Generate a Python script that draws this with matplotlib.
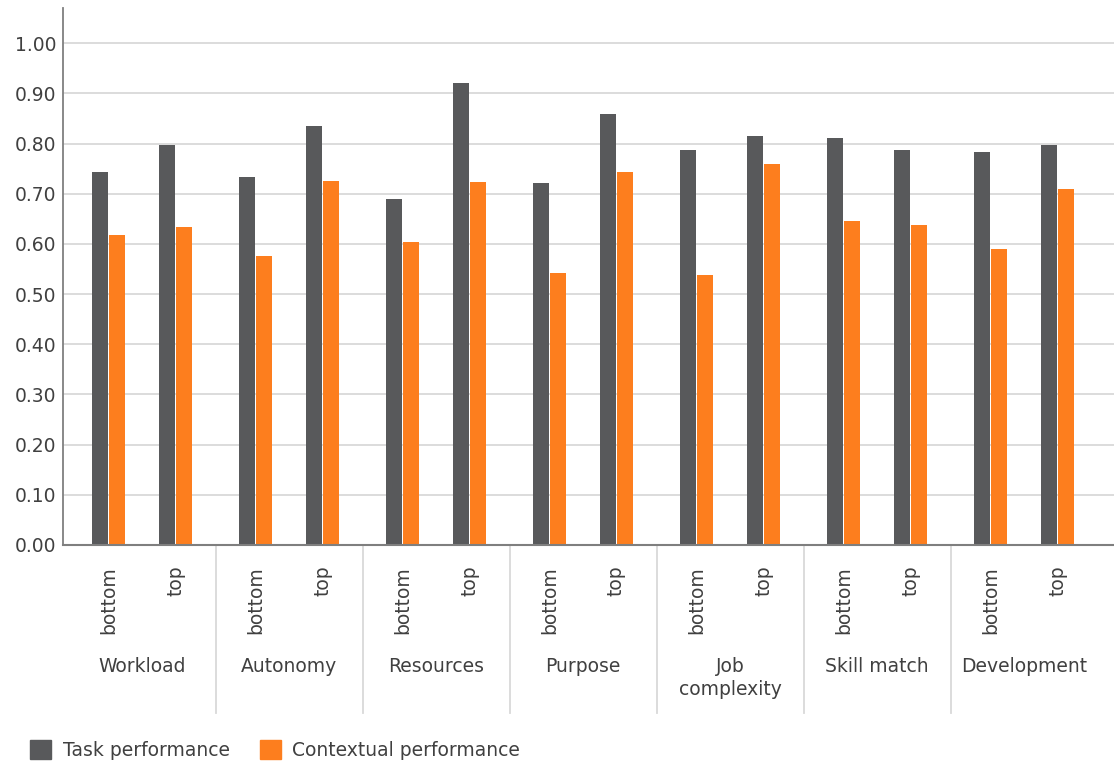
import matplotlib
matplotlib.use("Agg")
import matplotlib.pyplot as plt
import matplotlib.transforms as mtransforms
from matplotlib.patches import Patch
import numpy as np

groups = ["Workload", "Autonomy", "Resources", "Purpose", "Job\ncomplexity", "Skill match", "Development"]
levels = ["bottom", "top"]

# values per group: [bottom, top]
task = [
    [0.743, 0.797],
    [0.733, 0.835],
    [0.690, 0.920],
    [0.721, 0.859],
    [0.787, 0.815],
    [0.810, 0.787],
    [0.783, 0.797],
]
contextual = [
    [0.618, 0.634],
    [0.575, 0.725],
    [0.604, 0.723],
    [0.542, 0.743],
    [0.538, 0.759],
    [0.646, 0.638],
    [0.590, 0.709],
]

series_names = ["Task performance", "Contextual performance"]
task_color = "#58595b"
ctx_color = "#fd7e1e"
text_color = "#404040"
grid_color = "#d9d9d9"

plt.rcParams["font.family"] = ["DejaVu Sans"]
plt.rcParams["font.size"] = 13.5

fig = plt.figure(figsize=(11.14, 7.64), dpi=100)
ax = fig.add_axes([63 / 1114, 1 - 545 / 764, 1051 / 1114, 537 / 764])

inner = 67 / 147   # distance bottom->top within a group
bw = 0.108
off = 0.058

x_centers = []
x_labels = []
for g in range(len(groups)):
    for j in range(len(levels)):
        xc = g + j * inner
        x_centers.append(xc)
        x_labels.append(levels[j])
        ax.bar(xc - off, task[g][j], width=bw, color=task_color, zorder=3)
        ax.bar(xc + off, contextual[g][j], width=bw, color=ctx_color, zorder=3)

ax.set_xlim(-45.5 / 147, (1114 - 108.5) / 147)
ax.set_ylim(0, 1.07)
ax.set_yticks(np.arange(0, 1.01, 0.1))
ax.set_yticklabels([f"{v:.2f}" for v in np.arange(0, 1.01, 0.1)], color=text_color)
ax.yaxis.grid(True, color=grid_color, lw=1.3, zorder=0)
ax.set_axisbelow(True)

ax.set_xticks(x_centers)
ax.set_xticklabels(x_labels, rotation=90, color=text_color)
ax.tick_params(axis="x", length=0, pad=15)
ax.tick_params(axis="y", length=0, pad=5)

for s in ["top", "right"]:
    ax.spines[s].set_visible(False)
ax.spines["left"].set_color("#7f7f7f")
ax.spines["left"].set_linewidth(1.3)
ax.spines["bottom"].set_color("#7f7f7f")
ax.spines["bottom"].set_linewidth(1.5)
ax.spines["bottom"].set_zorder(4)

trans = mtransforms.blended_transform_factory(ax.transData, ax.transAxes)
sep_bottom = -(713 - 545) / 537
for g in range(len(groups) - 1):
    xs = g + inner + (1 - inner) / 2
    ax.plot([xs, xs], [0, sep_bottom], transform=trans, color=grid_color, lw=1.3, clip_on=False)

label_y = -(657 - 545) / 537
for g, name in enumerate(groups):
    ax.text(g + inner / 2, label_y, name, transform=trans, ha="center", va="top",
            color=text_color, fontsize=13.5, linespacing=1.25)

handles = [Patch(color=task_color), Patch(color=ctx_color)]
fig.legend(handles, series_names, loc="lower left", bbox_to_anchor=(28 / 1114, 0.003),
           ncol=2, frameon=False, handlelength=1.15, handleheight=1.25, handletextpad=0.6,
           columnspacing=1.6, borderpad=0.0, borderaxespad=0.1, fontsize=13.5, labelcolor=text_color)

fig.savefig("out.png", dpi=100)
